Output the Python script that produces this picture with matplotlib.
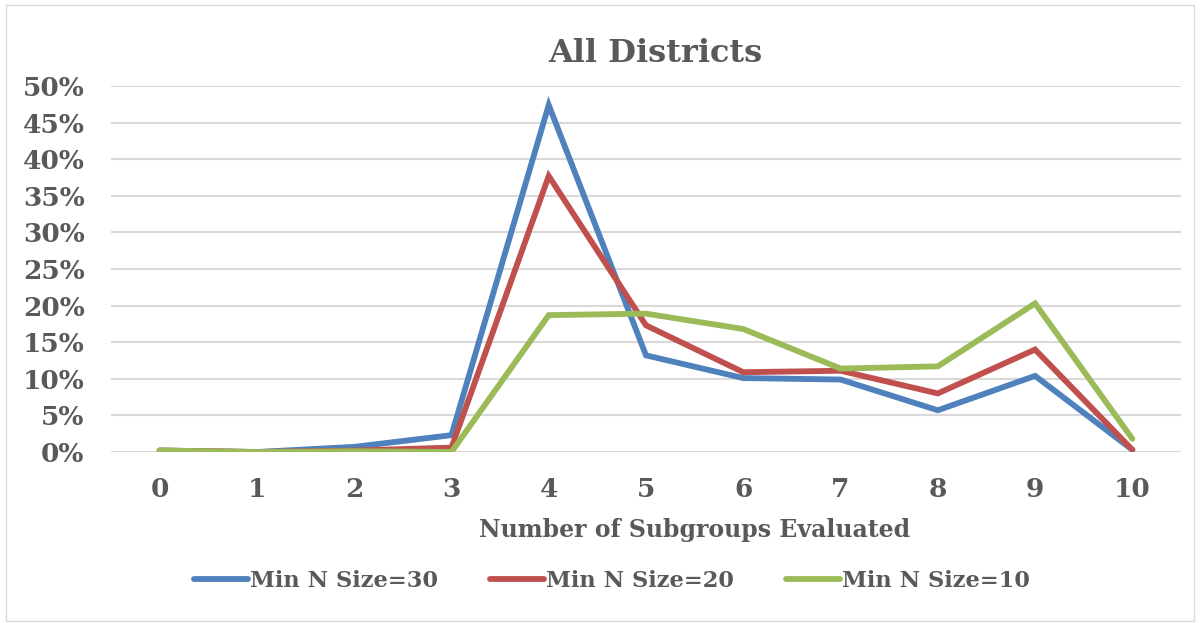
import matplotlib
matplotlib.use("Agg")
import matplotlib.pyplot as plt
from matplotlib.ticker import FuncFormatter, MultipleLocator
from matplotlib.patches import Rectangle

categories = [0, 1, 2, 3, 4, 5, 6, 7, 8, 9, 10]
min_n_30 = [0.2, 0.0, 0.7, 2.3, 47.4, 13.2, 10.1, 9.9, 5.7, 10.4, 0.3]
min_n_20 = [0.2, 0.0, 0.2, 0.6, 37.7, 17.3, 10.9, 11.1, 8.0, 14.0, 0.3]
min_n_10 = [0.2, 0.0, 0.1, 0.0, 18.7, 18.9, 16.8, 11.4, 11.7, 20.3, 1.8]
labels = ["Min N Size=30", "Min N Size=20", "Min N Size=10"]
colors = ["#4f81bd", "#c0504d", "#9bbb59"]

font = "DejaVu Serif"
txt = "#595959"

fig = plt.figure(figsize=(12.01, 6.23), dpi=100)
ax = fig.add_axes([111/1201, 1 - 452/623, (1181 - 111)/1201, (452 - 86)/623])

for vals, lab, col in zip([min_n_30, min_n_20, min_n_10], labels, colors):
    ax.plot(categories, vals, color=col, lw=4.2, label=lab, solid_capstyle="round", solid_joinstyle="miter")

ax.set_xlim(-0.5, 10.5)
ax.set_ylim(0, 50)
ax.yaxis.set_major_locator(MultipleLocator(5))
ax.yaxis.set_major_formatter(FuncFormatter(lambda v, p: f"{int(round(v))}%"))
ax.set_xticks(categories)
ax.grid(axis="y", color="#d9d9d9", lw=1.5)
ax.set_axisbelow(True)
for s in ax.spines.values():
    s.set_visible(False)
ax.tick_params(length=0)
ax.tick_params(axis="y", pad=19)
ax.tick_params(axis="x", pad=18)
for t in ax.get_yticklabels():
    t.set_fontsize(19)
for t in ax.get_xticklabels():
    t.set_fontsize(19)
for t in ax.get_yticklabels() + ax.get_xticklabels():
    t.set_fontfamily(font)
    t.set_fontweight("bold")
    t.set_color(txt)

fig.text(655/1201, 1 - 53/623, "All Districts", fontfamily=font, fontweight="bold", fontsize=23,
         color=txt, ha="center", va="center")
fig.text(695/1201, 1 - 530/623, "Number of Subgroups Evaluated", fontfamily=font, fontweight="bold",
         fontsize=17, color=txt, ha="center", va="center")

leg = fig.legend(loc="center", bbox_to_anchor=(612/1201, 1 - 581/623), ncol=3, frameon=False,
                 prop={"family": font, "weight": "bold", "size": 16.2}, handlelength=2.4,
                 columnspacing=2.3, handletextpad=0.1)
for t in leg.get_texts():
    t.set_color(txt)

fig.patches.append(Rectangle((6/1201, 2/623), 1188/1201, 616/623, transform=fig.transFigure,
                             fill=False, edgecolor="#d9d9d9", lw=1))

fig.savefig("out.png", dpi=100, facecolor="white")
